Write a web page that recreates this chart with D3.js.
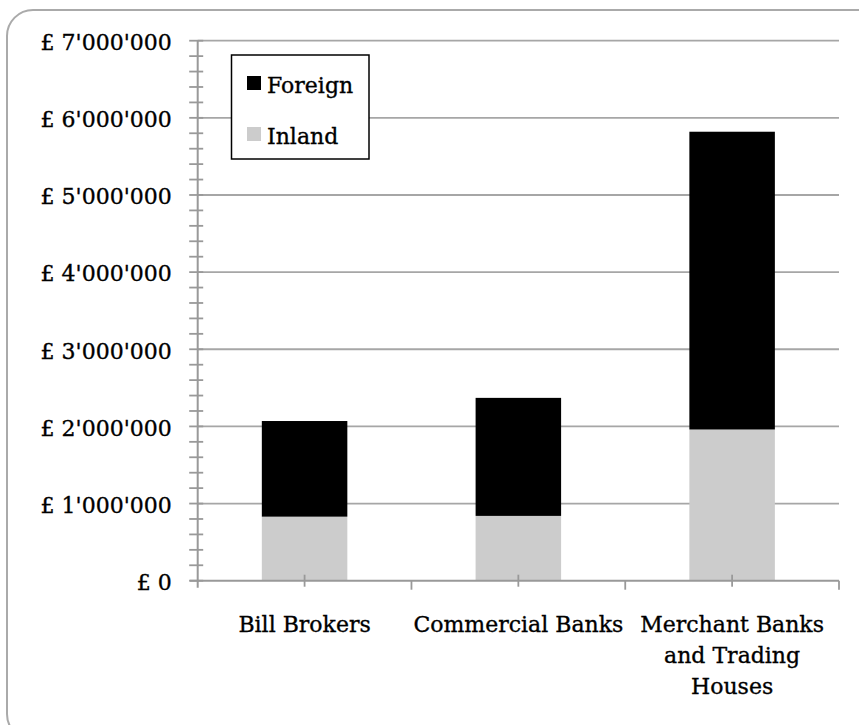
<!DOCTYPE html>
<html>
<head>
<meta charset="utf-8">
<script src="https://cdn.jsdelivr.net/npm/d3@7"></script>
<style>
  html, body { margin: 0; padding: 0; background: #fff; }
  svg { display: block; }
  text { font-family: "DejaVu Serif", serif; fill: #000; }
</style>
</head>
<body>
<svg id="chart" width="859" height="725"></svg>
<script>
const categories = [["Bill Brokers"], ["Commercial Banks"], ["Merchant Banks", "and Trading", "Houses"]];
const inland = [830000, 840000, 1960000];
const foreign = [1240000, 1530000, 3860000];
const seriesNames = ["Foreign", "Inland"];
const seriesColors = { Foreign: "#000000", Inland: "#cccccc" };
const yMajorTicks = [0, 1000000, 2000000, 3000000, 4000000, 5000000, 6000000, 7000000];

(function () {
const svg = d3.select("#chart");
const FS = 22;

// outer rounded frame (clipped by window on right/bottom)
svg.append("rect")
  .attr("x", 7).attr("y", 10).attr("width", 880).attr("height", 730)
  .attr("rx", 26).attr("ry", 26)
  .attr("fill", "#fff").attr("stroke", "#aaaaaa").attr("stroke-width", 2);

const pL = 197.7, pR = 839, pT = 40.7, pB = 580.7;

const keys = categories.map(c => c.join(" "));
const x = d3.scaleBand().domain(keys).range([pL, pR]).paddingInner(0).paddingOuter(0);
const y = d3.scaleLinear().domain([0, 7000000]).range([pB, pT]);

const data = keys.map((k, i) => ({ key: k, Inland: inland[i], Foreign: foreign[i] }));
const stack = d3.stack().keys(["Inland", "Foreign"])(data);

// gridlines
svg.append("g").selectAll("line").data(yMajorTicks.filter(d => d > 0)).join("line")
  .attr("x1", pL).attr("x2", pR)
  .attr("y1", d => y(d)).attr("y2", d => y(d))
  .attr("stroke", "#a6a6a6").attr("stroke-width", 1.8);

// bars
const barW = x.bandwidth() * 0.4;
svg.append("g").selectAll("g").data(stack).join("g")
  .attr("fill", d => seriesColors[d.key])
  .selectAll("rect").data(d => d).join("rect")
  .attr("x", d => x(d.data.key) + (x.bandwidth() - barW) / 2)
  .attr("width", barW)
  .attr("y", d => y(d[1]))
  .attr("height", d => y(d[0]) - y(d[1]));

// y axis line and ticks
const yMinor = d3.range(0, 7000001, 200000);
svg.append("line").attr("x1", pL).attr("x2", pL).attr("y1", pT).attr("y2", pB + 7)
  .attr("stroke", "#999").attr("stroke-width", 2);
svg.append("g").selectAll("line").data(yMinor).join("line")
  .attr("x1", pL - 8.5).attr("x2", pL + 5.5)
  .attr("y1", d => y(d)).attr("y2", d => y(d))
  .attr("stroke", "#999").attr("stroke-width", 1.8);

// y labels via axis
const fmt = d => "£ " + d3.format(",")(d).replace(/,/g, "'");
const yAxis = svg.append("g").attr("transform", `translate(${pL},0)`)
  .call(d3.axisLeft(y).tickValues(yMajorTicks).tickFormat(fmt).tickSize(0).tickPadding(26));
yAxis.select(".domain").remove();
yAxis.selectAll("text").attr("font-size", FS).attr("font-family", "DejaVu Serif, serif")
  .attr("fill", "#000").attr("stroke", "#000").attr("stroke-width", 0.35).attr("dy", "0.4em");

// x axis
svg.append("line").attr("x1", pL - 8).attr("x2", pR).attr("y1", pB).attr("y2", pB)
  .attr("stroke", "#999").attr("stroke-width", 2);
const bounds = keys.map(k => x(k)).concat([pR]);
svg.append("g").selectAll("line").data(bounds.slice(1)).join("line")
  .attr("x1", d => d).attr("x2", d => d).attr("y1", pB).attr("y2", pB + 9)
  .attr("stroke", "#999").attr("stroke-width", 1.8);
svg.append("g").selectAll("line").data(keys).join("line")
  .attr("x1", d => x(d) + x.bandwidth() / 2).attr("x2", d => x(d) + x.bandwidth() / 2)
  .attr("y1", pB - 6).attr("y2", pB + 6)
  .attr("stroke", "#999").attr("stroke-width", 1.8);

// x labels
const xl = svg.append("g").selectAll("text").data(categories).join("text")
  .attr("x", (d, i) => x(keys[i]) + x.bandwidth() / 2)
  .attr("y", 632)
  .attr("text-anchor", "middle").attr("font-size", FS)
  .attr("stroke", "#000").attr("stroke-width", 0.35);
xl.selectAll("tspan").data(d => d).join("tspan")
  .attr("x", function () { return this.parentNode.getAttribute("x"); })
  .attr("dy", (d, i) => i === 0 ? 0 : 31)
  .text(d => d);

// legend
const lg = svg.append("g");
lg.append("rect").attr("x", 231.5).attr("y", 55).attr("width", 137.5).attr("height", 104)
  .attr("fill", "#fff").attr("stroke", "#000").attr("stroke-width", 1.5);
const legY = [76, 127];
seriesNames.forEach((s, i) => {
  lg.append("rect").attr("x", 247).attr("y", legY[i]).attr("width", 14).attr("height", 14)
    .attr("fill", seriesColors[s]);
  lg.append("text").attr("x", 267).attr("y", legY[i] + 17).attr("font-size", FS)
    .attr("stroke", "#000").attr("stroke-width", 0.35).text(s);
});
})();
</script>
</body>
</html>
